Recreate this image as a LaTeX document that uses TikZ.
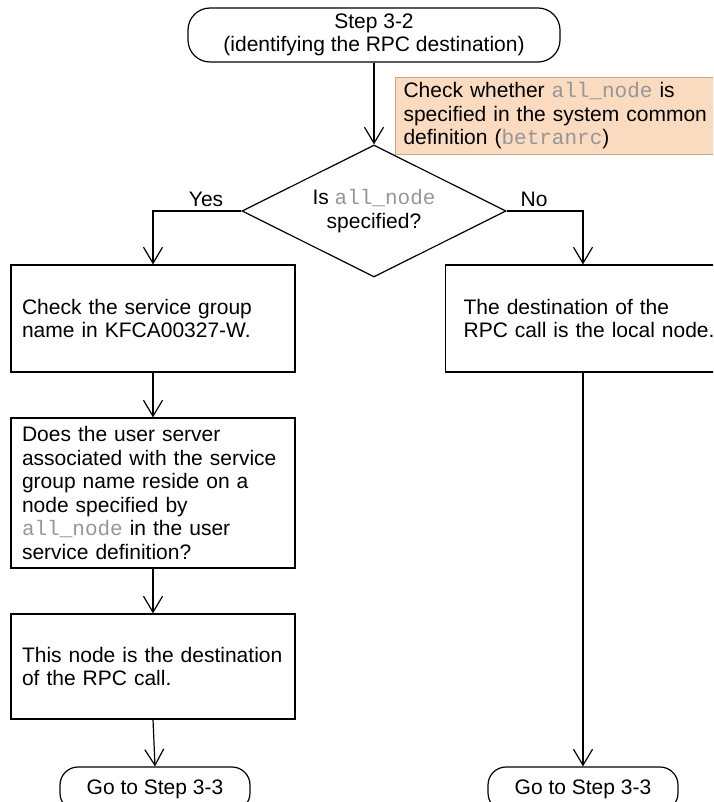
\documentclass[tikz,border=0pt]{standalone}
\usepackage{fontspec}
\setmainfont{Liberation Sans}
\setmonofont{Liberation Mono}
\usepackage{xcolor}
\usetikzlibrary{shapes.geometric,arrows.meta}
\definecolor{notefill}{RGB}{250,219,192}
\definecolor{notedraw}{RGB}{205,165,130}
\definecolor{codegray}{RGB}{150,150,150}
\newcommand{\code}[1]{{\ttfamily\color{codegray}#1}}

\begin{document}
\begin{tikzpicture}[x=1pt,y=-1pt,
  every node/.style={font=\fontsize{21}{23.5}\selectfont},
  proc/.style={draw,line width=1.2pt,rectangle,align=left,text width=262pt,
    inner xsep=11pt,inner ysep=0pt,minimum width=284pt},
  term/.style={draw,line width=1.2pt,rectangle,rounded corners=18pt,
    align=center,inner sep=0pt},
  test/.style={draw,line width=1.2pt,diamond,aspect=2,align=center,
    inner sep=0pt,minimum width=264pt,minimum height=132pt},
  flow/.style={line width=1.2pt,-{Straight Barb[length=16pt,width=19pt]}}]
\useasboundingbox (0,0) rectangle (713,802);
\clip (0,0) rectangle (713,802);

\coordinate (rcol) at (583,0);

\node[term,minimum width=372pt,minimum height=54pt,rounded corners=22pt] (start) at (374,35)
  {Step 3-2\\(identifying the RPC destination)};
\node[test] (isall) at (374,211) {Is \code{all\_node}\\specified?};
\node[draw=notedraw,fill=notefill,line width=1pt,align=left,text width=310pt,
  inner xsep=8pt,inner ysep=0pt,minimum height=77pt,anchor=north west] (note) at (395,77)
  {Check whether \code{all\_node} is\\specified in the system common\\definition (\code{betranrc})};

% yes branch
\node[proc,minimum height=107pt] (chkname) at (153,318.5)
  {Check the service group\\name in KFCA00327-W.};
\node[proc,minimum height=150pt] (reside) at (153,493)
  {Does the user server\\associated with the service\\group name reside on a\\node specified by\\\code{all\_node} in the user\\service definition?};
\node[proc,minimum height=105pt] (thisnode) at (153,666.5)
  {This node is the destination\\of the RPC call.};
\node[term,minimum width=190pt,minimum height=44pt] (goto1) at (155,789) {Go to Step 3-3};

% no branch
\node[proc,text width=260pt,inner xsep=18pt,minimum height=107pt,anchor=west] (localnode) at (445,318.5)
  {The destination of the\\RPC call is the local node.};
\node[term,minimum width=190pt,minimum height=44pt] (goto2) at (583,789) {Go to Step 3-3};

\draw[flow] (start) -- (isall);
\draw[flow] (isall.west) -| (chkname.north) node[pos=0.2,above] {Yes};
\draw[flow] (isall.east) -| (localnode.north -| rcol) node[pos=0.18,above] {No};
\draw[flow] (chkname) -- (reside);
\draw[flow] (reside) -- (thisnode);
\draw[flow] (thisnode.south) -- (goto1.north);
\draw[flow] (localnode.south -| rcol) -- (goto2.north);
\end{tikzpicture}
\end{document}
